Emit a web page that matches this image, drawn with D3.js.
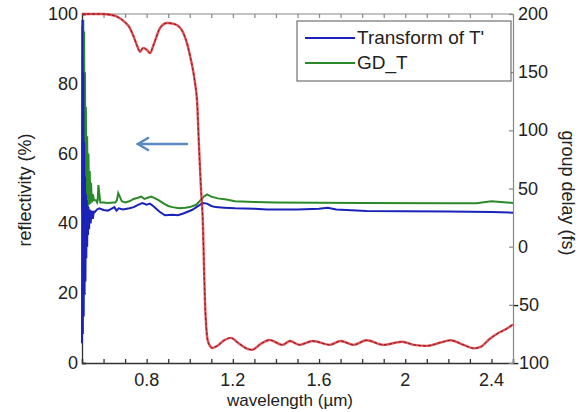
<!DOCTYPE html>
<html><head><meta charset="utf-8">
<script src="https://cdn.jsdelivr.net/npm/d3@7"></script>
<style>body{margin:0;background:#fff}svg{display:block}text{font-family:"Liberation Sans",Arial,sans-serif;fill:#222}</style>
</head><body><svg id="c" width="579" height="412"></svg>
<script>
// Reflectivity (%) — left axis
const wlR = [0.50,0.55,0.60,0.63,0.66,0.68,0.70,0.72,0.74,0.755,0.77,0.783,0.80,0.816,0.83,0.84,0.862,0.895,0.93,0.963,0.99,1.005,1.015,1.025,1.034,1.043,1.052,1.061,1.066,1.071,1.077,1.083,1.095,1.105,1.13,1.16,1.19,1.23,1.27,1.29,1.33,1.37,1.43,1.465,1.51,1.57,1.65,1.70,1.76,1.82,1.90,1.985,2.04,2.10,2.16,2.21,2.27,2.32,2.35,2.39,2.43,2.47,2.50];
const refl = [100,100,100,99.8,99.3,98.6,97.6,96.2,93.5,91,89.2,90.3,89.8,88.8,90.8,92.5,96,97.4,97.1,95.4,91,87,84,80,75,62,50,40,28,17,10,6.6,4.8,4.3,5,6.5,7.2,5.5,4,3.8,5.5,6.6,5.2,6.3,5.2,6.3,5.2,6.3,5.2,6.5,5.2,6.1,5.2,4.9,5.8,6.5,5.2,4.2,4.6,6.8,8.5,9.8,11];
// Transform of T' (fs) — right axis
const wlB = [0.500,0.502,0.504,0.506,0.508,0.510,0.512,0.514,0.516,0.518,0.520,0.522,0.524,0.526,0.528,0.530,0.533,0.536,0.540,0.545,0.550,0.555,0.560,0.570,0.580,0.600,0.620,0.640,0.650,0.660,0.670,0.690,0.720,0.740,0.760,0.780,0.800,0.815,0.830,0.860,0.885,0.920,0.945,0.970,1.010,1.040,1.060,1.080,1.100,1.120,1.160,1.210,1.300,1.360,1.500,1.600,1.640,1.680,1.820,2.000,2.200,2.400,2.500];
const gdB = [-83,195,-75,150,-60,90,-40,60,-30,45,-10,40,0,35,10,34,15,32,20,31,24,30,29.8,32,33,31.5,31,33,34,31,33,32,33,34,36,37.5,36,37,35,30,27,27.5,27,28.5,31.5,35,37.5,37,35,34,33.5,33,32.5,32,32,32.5,33.5,32,30.7,30.5,30.2,29.8,29.2];
// GD_T (fs) — right axis
const wlG = [0.500,0.502,0.504,0.506,0.508,0.510,0.512,0.514,0.516,0.518,0.521,0.524,0.527,0.530,0.533,0.536,0.539,0.542,0.546,0.550,0.556,0.565,0.570,0.573,0.576,0.585,0.600,0.620,0.645,0.655,0.662,0.668,0.685,0.700,0.720,0.740,0.760,0.775,0.790,0.805,0.820,0.835,0.855,0.880,0.900,0.920,0.950,0.980,1.000,1.030,1.050,1.065,1.080,1.100,1.130,1.170,1.210,1.300,1.400,1.800,2.200,2.330,2.400,2.500];
const gdG = [30,190,25,195,28,185,30,150,32,120,35,95,34,80,36,65,37,55,38,45,40,40,38,40,53,38,38,37.5,38,38,40,46,39,38,39,41,42,43,41,42,43,42,40,37,35,34,33,33.5,34,36,40,43,45,43,41.5,40.5,39,38.5,38,37.5,37.4,37.4,39,37.6,37.3].slice(0,64);
const xTicks = [0.8,1.2,1.6,2,2.4];
const yTicksL = [0,20,40,60,80,100];
const yTicksR = [-100,-50,0,50,100,150,200];
const legendLabels = ["Transform of T'","GD_T"];
const colors = {blue:"#1a22b8", green:"#2a8a2a", red:"#e0303a", dark:"#7a1c1c", arrow:"#5a8abf"};

const svg = d3.select("#c");
const L=82,R=513,T=14,B=363;
const x = d3.scaleLinear().domain([0.5,2.5]).range([L,R]);
const yL = d3.scaleLinear().domain([0,100]).range([B,T]);
const yR = d3.scaleLinear().domain([-100,200]).range([B,T]);
const fs = 18;

// frame
svg.append("line").attr("x1",L).attr("x2",R).attr("y1",T).attr("y2",T).attr("stroke","#888").attr("stroke-width",1.2);

// axes with inward ticks
const gx = svg.append("g").attr("transform",`translate(0,${B})`)
  .call(d3.axisBottom(x).tickValues(d3.range(5,26).map(d=>d/10)).tickSize(-4).tickFormat(""));
const gxt = svg.append("g").attr("transform",`translate(0,${T})`)
  .call(d3.axisTop(x).tickValues(d3.range(5,26).map(d=>d/10)).tickSize(-4).tickFormat(""));
const gl = svg.append("g").attr("transform",`translate(${L},0)`)
  .call(d3.axisLeft(yL).tickValues(yTicksL).tickSize(-4).tickFormat(""));
const gr = svg.append("g").attr("transform",`translate(${R},0)`)
  .call(d3.axisRight(yR).tickValues(yTicksR).tickSize(-4).tickFormat(""));
[gx,gl].forEach(g=>{g.selectAll("path,line").attr("stroke","#333").attr("stroke-width",1.3);});
[gxt,gr].forEach(g=>{g.selectAll("path,line").attr("stroke","#888").attr("stroke-width",1.2);});
gxt.select("path").remove();

// tick labels
svg.append("g").selectAll("text").data(xTicks).join("text")
  .attr("x",d=>x(d)).attr("y",386).attr("text-anchor","middle").attr("font-size",fs).text(d=>d);
svg.append("g").selectAll("text").data(yTicksL).join("text")
  .attr("x",78).attr("y",d=>yL(d)+6).attr("text-anchor","end").attr("font-size",fs).text(d=>d);
svg.append("g").selectAll("text").data(yTicksR).join("text")
  .attr("x",d=>d<0?513:518).attr("y",d=>yR(d)+6).attr("text-anchor","start").attr("font-size",fs).text(d=>d<0?"-"+Math.abs(d):d);

// axis titles
const xt = svg.append("text").attr("x",290).attr("y",406).attr("text-anchor","middle").attr("font-size",17);
xt.append("tspan").text("wavelength (");
xt.append("tspan").text("\u00b5m");
xt.append("tspan").text(")");
svg.append("text").attr("transform","translate(31,190) rotate(-90)").attr("text-anchor","middle").attr("font-size",fs).text("reflectivity (%)");
svg.append("text").attr("transform","translate(562,193) rotate(90)").attr("text-anchor","middle").attr("font-size",fs).text("group delay (fs)");

// lines
const lineG = d3.line().x((d,i)=>x(wlG[i])).y(d=>yR(d));
const lineB = d3.line().x((d,i)=>x(wlB[i])).y(d=>yR(d));
const lineR = d3.line().x((d,i)=>x(wlR[i])).y(d=>yL(d)).curve(d3.curveMonotoneX);
svg.append("path").attr("d",lineG(gdG)).attr("fill","none").attr("stroke",colors.green).attr("stroke-width",2);
svg.append("path").attr("d",lineB(gdB)).attr("fill","none").attr("stroke",colors.blue).attr("stroke-width",2);
svg.append("path").attr("d",lineR(refl)).attr("fill","none").attr("stroke",colors.red).attr("stroke-width",2.4).attr("stroke-opacity",0.85);
svg.append("path").attr("d",lineR(refl)).attr("fill","none").attr("stroke",colors.dark).attr("stroke-width",1).attr("stroke-dasharray","3,2");

// arrow
const ag = svg.append("g").attr("stroke",colors.arrow).attr("stroke-width",2.6).attr("fill","none").attr("stroke-linecap","round");
ag.append("line").attr("x1",187).attr("y1",144).attr("x2",139).attr("y2",144);
ag.append("polyline").attr("points","148,138 138,144 148,150");

// legend
const lg = svg.append("g");
lg.append("rect").attr("x",297).attr("y",21).attr("width",214).attr("height",60).attr("fill","#fff").attr("stroke","#555").attr("stroke-width",1);
const lc = [colors.blue, colors.green];
legendLabels.forEach((t,i)=>{
  const yy = 38 + i*25;
  lg.append("line").attr("x1",305).attr("x2",355).attr("y1",yy).attr("y2",yy).attr("stroke",lc[i]).attr("stroke-width",2);
  lg.append("text").attr("x",357).attr("y",yy+6).attr("font-size",fs+1).text(t);
});
</script></body></html>
